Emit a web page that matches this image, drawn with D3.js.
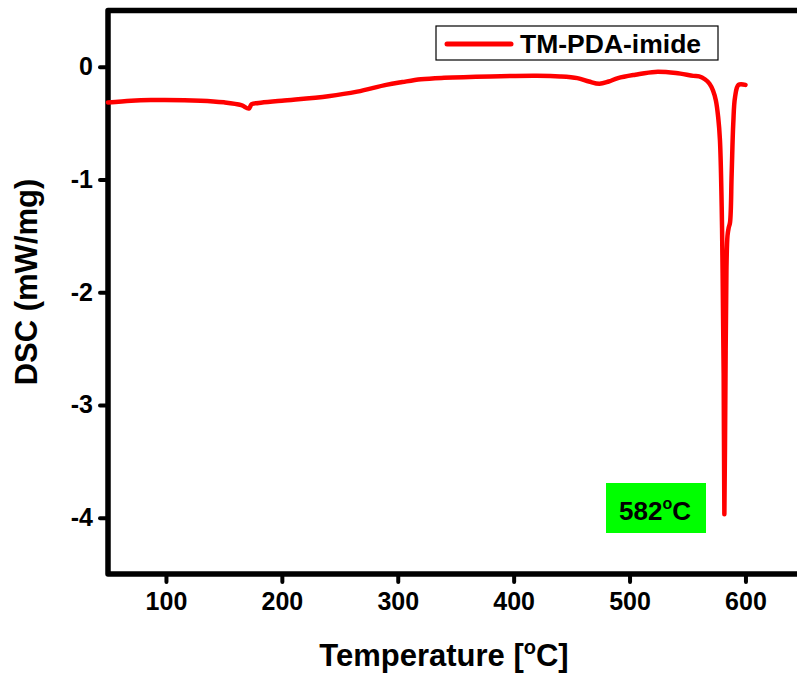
<!DOCTYPE html>
<html>
<head>
<meta charset="utf-8">
<script src="https://cdn.jsdelivr.net/npm/d3@7"></script>
<style>
  html, body { margin: 0; padding: 0; background: #fff; }
  svg { display: block; }
  text { font-family: "Liberation Sans", Arial, sans-serif; font-weight: bold; }
</style>
</head>
<body>
<script>
// ---- data ----
const temperature = [50, 70, 87, 130, 150, 165, 171.5, 174, 180, 200, 240, 265, 290, 304, 320, 340, 380, 420, 440, 455, 465, 474, 482, 490, 505, 522, 540, 555, 560, 565, 569, 572, 574.5, 576.5, 578, 579.5, 580.3, 581.2, 581.8, 582.6, 583.6, 584.5, 585.5, 586.7, 588.1, 589.5, 591, 594, 600];
const dsc = [-0.316, -0.30, -0.295, -0.30, -0.315, -0.34, -0.37, -0.33, -0.32, -0.30, -0.26, -0.22, -0.16, -0.135, -0.11, -0.097, -0.085, -0.08, -0.085, -0.10, -0.13, -0.15, -0.13, -0.10, -0.07, -0.045, -0.055, -0.08, -0.085, -0.11, -0.15, -0.21, -0.30, -0.45, -0.65, -1.24, -1.83, -2.72, -3.97, -3.0, -1.8, -1.50, -1.43, -1.38, -0.95, -0.50, -0.27, -0.16, -0.16];
const xTicks = [100, 200, 300, 400, 500, 600];
const yTicks = [-4, -3, -2, -1, 0];
const seriesName = "TM-PDA-imide";
const peakLabel = "582";

const W = 797, H = 673;
const svg = d3.select("body").append("svg").attr("width", W).attr("height", H);

const x = d3.scaleLinear().domain([50, 650]).range([108, 803.4]);
const y = d3.scaleLinear().domain([-4.5, 0.5]).range([574, 10.5]);

// axes
const xAxis = d3.axisBottom(x).tickValues(xTicks).tickSize(8).tickPadding(10).tickFormat(d => String(d));
const yAxis = d3.axisLeft(y).tickValues(yTicks).tickSize(8).tickPadding(7).tickFormat(d => String(d));

const gx = svg.append("g").attr("transform", `translate(0,${y(-4.5)})`).call(xAxis);
const gy = svg.append("g").attr("transform", `translate(${x(50)},0)`).call(yAxis);
[gx, gy].forEach(g => {
  g.select(".domain").remove();
  g.selectAll(".tick line").attr("stroke", "#000").attr("stroke-width", 4).attr("stroke-linecap", "round");
  g.selectAll(".tick text").attr("fill", "#000").style("font-size", "25px").style("font-weight", "bold")
    .style("font-family", "'Liberation Sans', Arial, sans-serif");
});

// frame
const frame = svg.append("g").attr("stroke", "#000").attr("stroke-width", 5.5).attr("fill", "none").attr("stroke-linecap", "round");
frame.append("path").attr("d", `M${x(650)},${y(0.5)} L${x(50)},${y(0.5)} L${x(50)},${y(-4.5)} L${x(650)},${y(-4.5)}`)
  .attr("stroke-linejoin", "round");

// curve
const pts = temperature.map((t, i) => [t, dsc[i]]);
svg.append("path").datum(pts)
  .attr("d", d3.line().x(d => x(d[0])).y(d => y(d[1])).curve(d3.curveCatmullRom.alpha(0.5)))
  .attr("fill", "none").attr("stroke", "#ff0000").attr("stroke-width", 4.5)
  .attr("stroke-linejoin", "round").attr("stroke-linecap", "round");

// legend
const lg = svg.append("g");
lg.append("rect").attr("x", 436).attr("y", 26).attr("width", 282).attr("height", 34)
  .attr("fill", "#fff").attr("stroke", "#000").attr("stroke-width", 1.2);
lg.append("line").attr("x1", 447).attr("x2", 511).attr("y1", 44).attr("y2", 44)
  .attr("stroke", "#ff0000").attr("stroke-width", 5).attr("stroke-linecap", "round");
lg.append("text").attr("x", 520).attr("y", 53).style("font-size", "26.5px").text(seriesName);

// peak annotation
svg.append("rect").attr("x", 606).attr("y", 483).attr("width", 100).attr("height", 50).attr("fill", "#00ff00");
const pt = svg.append("text").attr("x", 655).attr("y", 520).attr("text-anchor", "middle").style("font-size", "26px");
pt.append("tspan").text(peakLabel);
pt.append("tspan").attr("dy", -11).style("font-size", "16px").text("o");
pt.append("tspan").attr("dy", 11).text("C");

// axis titles
const xt = svg.append("text").attr("x", 444).attr("y", 666).attr("text-anchor", "middle").style("font-size", "31px");
xt.append("tspan").text("Temperature [");
xt.append("tspan").attr("dy", -12).style("font-size", "20px").text("o");
xt.append("tspan").attr("dy", 12).text("C]");

svg.append("text").attr("transform", `translate(37,282) rotate(-90)`).attr("text-anchor", "middle")
  .style("font-size", "31px").text("DSC (mW/mg)");
</script>
</body>
</html>
